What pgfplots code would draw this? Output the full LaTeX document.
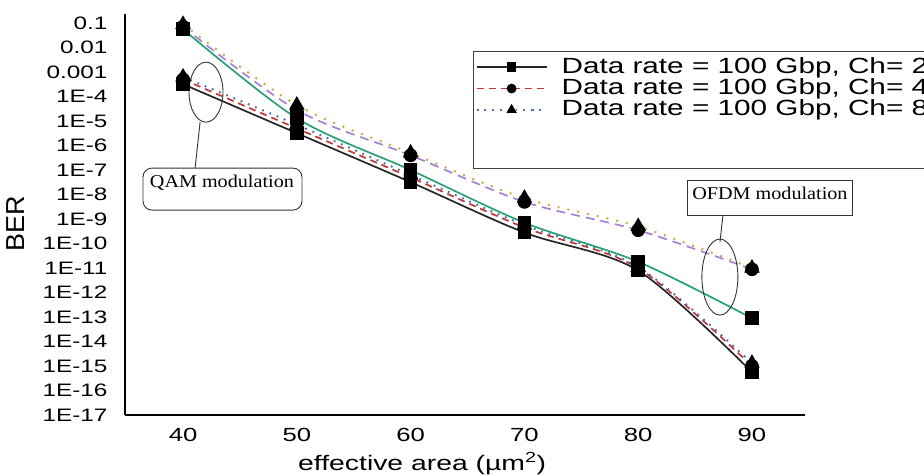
\documentclass[border=0pt]{standalone}
\usepackage{fontspec}
\setmainfont{Liberation Sans}[FakeStretch=1.35]
\newfontfamily\serifann{Liberation Serif}[FakeStretch=1.12]
\usepackage{graphicx}
\usepackage{pgfplots}
\pgfplotsset{compat=1.18}
\definecolor{cgreen}{RGB}{40,160,120}
\definecolor{cpurple}{RGB}{165,130,215}
\definecolor{cyellow}{RGB}{205,170,70}
\definecolor{cred}{RGB}{195,55,55}
\definecolor{cblue}{RGB}{80,110,170}
\begin{document}
\begin{tikzpicture}
\begin{axis}[
  at={(0pt,0pt)}, anchor=south west,
  scale only axis, width=680pt, height=401pt,
  xmin=34.9, xmax=94.66,
  ymode=log, ymin=1e-17, ymax=0.234,
  axis x line=bottom, axis y line=left,
  axis line style={-, line width=1.8pt, black},
  major tick length=0pt, minor tick length=0pt, yminorticks=false,
  xtick={40,50,60,70,80,90}, xticklabels={40,50,60,70,80,90},
  ytick={1e-1,1e-2,1e-3,1e-4,1e-5,1e-6,1e-7,1e-8,1e-9,1e-10,1e-11,1e-12,1e-13,1e-14,1e-15,1e-16,1e-17},
  yticklabels={0.1,0.01,0.001,1E-4,1E-5,1E-6,1E-7,1E-8,1E-9,1E-10,1E-11,1E-12,1E-13,1E-14,1E-15,1E-16,1E-17},
  yticklabel style={font=\fontsize{18}{20}\selectfont, anchor=east, xshift=-14pt},
  xticklabel style={font=\fontsize{19}{21}\selectfont, yshift=-10pt},
  xlabel={effective area (µm\textsuperscript{2})},
  xlabel style={font=\fontsize{21}{23}\selectfont, at={(axis description cs:0.437,0)}, anchor=north, yshift=-34pt},
  ylabel={\scalebox{1}[1.3]{BER}},
  ylabel style={font=\fontsize{20}{22}\selectfont, at={(axis description cs:-0.1603,0.476)}, anchor=center},
  clip=false,
  legend cell align=left,
  legend style={at={(axis description cs:0.5118,0.9077)}, anchor=north west,
    draw=black!75, line width=1.2pt, fill=white,
    font=\fontsize{22}{24}\selectfont,
    inner xsep=2pt, inner ysep=5pt, row sep=0pt, column sep=14pt,
    nodes={inner sep=0pt, text height=16.5pt, text depth=4.8pt}},
  legend image code/.code={\draw[mark repeat=2, mark phase=2, #1, mark size=4pt] plot coordinates {(0pt,0pt) (35pt,0pt) (70pt,0pt)};},
]
% OFDM group (no legend)
\addplot[forget plot, smooth, cgreen, line width=1.7pt, mark=square*, mark size=6pt, mark options={solid, fill=black, draw=black}]
  coordinates {(40,5.6e-2) (50,1.3e-5) (60,1.0e-7) (70,7.1e-10) (80,1.8e-11) (90,8.9e-14)};
\addplot[forget plot, smooth, cpurple, line width=1.7pt, dash pattern=on 9pt off 6pt, mark=*, mark size=6pt, mark options={solid, fill=black, draw=black}]
  coordinates {(40,7.1e-2) (50,2.8e-5) (60,4.0e-7) (70,5.0e-9) (80,3.5e-10) (90,8.9e-12)};
\addplot[forget plot, smooth, cyellow, line width=2pt, dash pattern=on 2pt off 8pt, mark=triangle*, mark size=7pt, mark options={solid, fill=black, draw=black}]
  coordinates {(40,8.9e-2) (50,4.5e-5) (60,5.0e-7) (70,7.1e-9) (80,5.0e-10) (90,1.0e-11)};
% QAM group
\addplot[smooth, black!85, line width=1.7pt, mark=square*, mark size=6pt, mark options={solid, fill=black, draw=black}]
  coordinates {(40,3.2e-4) (50,3.2e-6) (60,3.2e-8) (70,2.8e-10) (80,7.9e-12) (90,5.6e-16)};
\addlegendentry{Data rate = 100 Gbp, Ch= 2}
\addplot[smooth, cred, line width=1.7pt, dash pattern=on 7pt off 5pt, mark=*, mark size=6pt, mark options={solid, fill=black, draw=black}]
  coordinates {(40,5.0e-4) (50,5.0e-6) (60,5.0e-8) (70,4.5e-10) (80,1.0e-11) (90,1.0e-15)};
\addlegendentry{Data rate = 100 Gbp, Ch= 4}
\addplot[smooth, cblue, line width=2pt, dash pattern=on 1.8pt off 6pt, mark=triangle*, mark size=7pt, mark options={solid, fill=black, draw=black}]
  coordinates {(40,6.3e-4) (50,7.1e-6) (60,6.3e-8) (70,5.6e-10) (80,1.1e-11) (90,1.3e-15)};
\addlegendentry{Data rate = 100 Gbp, Ch= 8}
\addlegendimage{empty legend}\addlegendentry{}
\addlegendimage{empty legend}\addlegendentry{}
% annotations
\draw[line width=0.9pt, black!80] (axis cs:42.02,1.51e-4) ellipse [x radius=17pt, y radius=30pt];
\draw[line width=0.9pt, black!80] (axis cs:41.5,9.1e-6) -- ++(-5pt,-46pt);
\draw[line width=0.9pt, black!80, rounded corners=9pt] (axis cs:36.48,1.2e-7) rectangle ++(159pt,-42pt);
\node[font=\serifann\fontsize{18}{20}\selectfont] at (axis cs:43.42,2.95e-8) {QAM modulation};
\draw[line width=0.9pt, black!80] (axis cs:84.37,3.9e-8) rectangle ++(165pt,-35pt);
\node[font=\serifann\fontsize{18}{20}\selectfont] at (axis cs:91.58,1.15e-8) {OFDM modulation};
\draw[line width=0.9pt, black!80] (axis cs:87.45,1.45e-9) -- ++(-3pt,-27pt);
\draw[line width=0.9pt, black!80] (axis cs:87.18,4.27e-12) ellipse [x radius=18pt, y radius=38pt];
\end{axis}
\pgfresetboundingbox
\path[use as bounding box] (-125pt,-61pt) rectangle (799pt,415pt);
\end{tikzpicture}
\end{document}
